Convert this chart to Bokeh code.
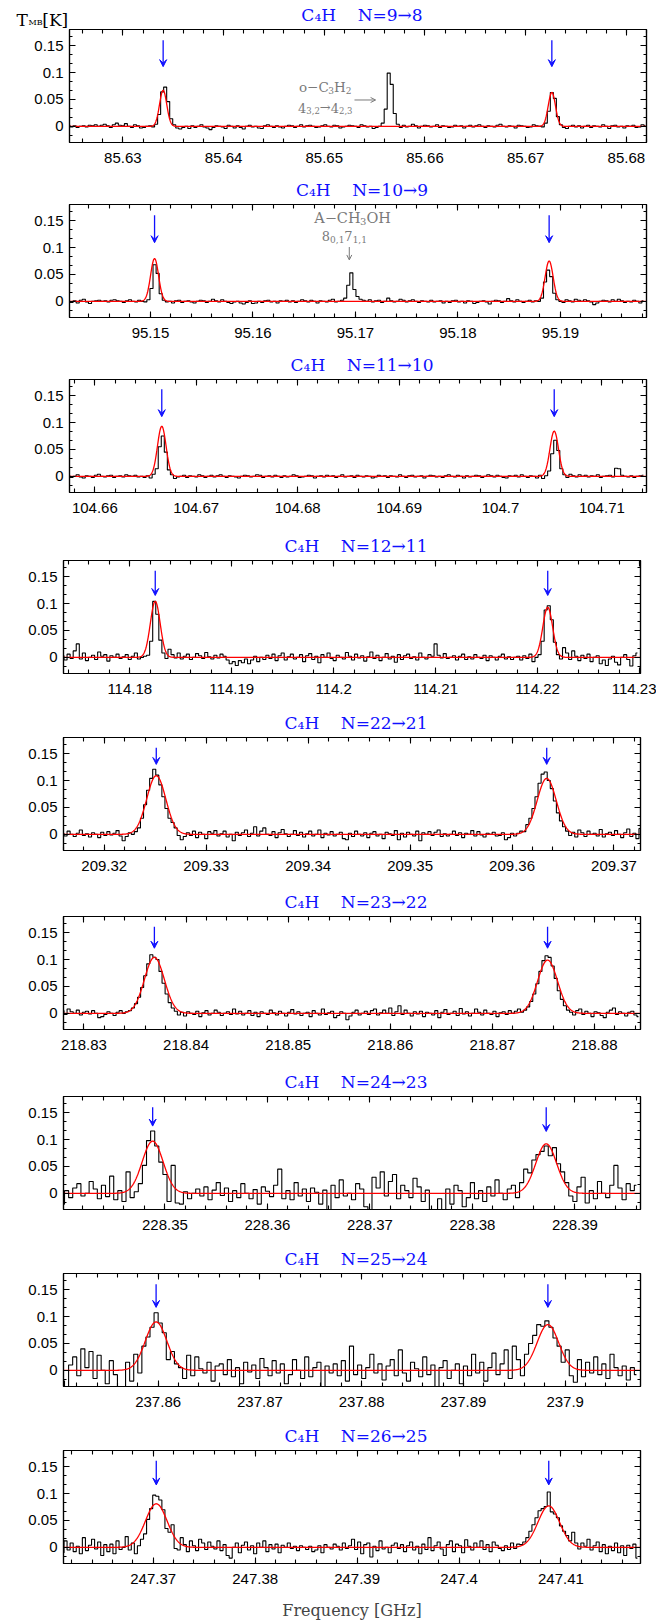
import numpy as np
from bokeh.plotting import figure
from bokeh.layouts import column
from bokeh.models import (Range1d, LinearAxis, SingleIntervalTicker,
                          CustomJSTickFormatter, Label, Arrow, VeeHead, OpenHead)
from bokeh.embed import file_html
from bokeh.resources import INLINE

# ---------------- data ----------------
TRANSITIONS = ["N=9→8", "N=10→9", "N=11→10", "N=12→11", "N=22→21",
               "N=23→22", "N=24→23", "N=25→24", "N=26→25"]
SPECIES = "C₄H"
XLIM = [(85.6247, 85.6820), (95.1421, 95.1984), (104.6575, 104.7144),
        (114.1735, 114.2301), (209.3160, 209.3726), (218.8280, 218.8845),
        (228.3401, 228.3964), (237.8507, 237.9074), (247.3612, 247.4178)]
YLIM = (-0.03, 0.18)
# C4H line frequencies (GHz) marked by blue arrows
LINES = [(85.6340, 85.6726), (95.1504, 95.1889), (104.6666, 104.7053),
         (114.1825, 114.2210), (209.3251, 209.3634), (218.8369, 218.8754),
         (228.3488, 228.3872), (237.8598, 237.8983), (247.3703, 247.4088)]
# Gaussian fit parameters
FIT_AMP = [(0.067, 0.063), (0.0795, 0.075), (0.093, 0.084), (0.104, 0.093),
           (0.109, 0.104), (0.104, 0.099), (0.097, 0.092), (0.090, 0.085),
           (0.081, 0.077)]
FIT_FWHM = [0.00085, 0.00092, 0.00100, 0.00114, 0.0022, 0.0023, 0.0024,
            0.0025, 0.0025]
# spectra: first channel frequency (GHz), channel width (GHz), T_MB in mK
CH_START = [85.6246, 95.1420, 104.6574, 114.1734, 209.3159, 218.8279,
            228.3400, 237.8506, 247.3611]
CH_WIDTH = [0.0003, 0.0003, 0.0003, 0.0003, 0.0003, 0.0003, 0.0004, 0.0004, 0.0003]

T1 = [2, -1, 1, -2, 0, 1, -1, 2, 1, 3,
      0, 2, 4, 1, -2, 3, 6, 2, 1, 5,
      0, -2, 3, 1, -3, -2, 0, 1, -1, 4,
      22, 64, 73, 46, 14, 3, -3, -5, -2, 0,
      -4, 1, -2, 0, 3, -1, -3, -6, -2, 1,
      0, -1, -4, 2, 0, -3, 1, -2, -5, 0,
      2, -1, 0, -3, -4, 1, 3, 0, -2, 1,
      -1, -3, 0, 2, 1, -2, 0, 3, -1, 1,
      2, 0, -2, -1, 1, 3, 0, -1, 2, 1,
      -3, -1, 0, 2, 1, 0, -2, 3, 1, -1,
      0, -4, -2, 0, 6, 32, 99, 78, 24, 4,
      -2, 2, -1, 0, 4, 1, -3, 0, 2, 1,
      -1, 0, 3, -2, 1, 0, -2, -1, 2, 0,
      1, -3, 0, 2, -1, 1, 3, 0, -2, 1,
      0, -1, 2, 4, 0, -1, 1, 0, -3, 2,
      1, 0, -2, -1, 3, 1, 0, -1, 6, 28,
      63, 52, 18, 3, -2, -4, 0, 2, -1, 1,
      -3, 0, 2, -2, 1, 0, -1, 3, 0, -4,
      1, 2, -1, 0, -3, 1, 0, 2, -2, -1,
      3, 1]
T2 = [0, -2, 1, -3, 2, 4, -1, -4, 0, 1,
      2, 0, 1, -1, 2, 3, 1, 0, -2, 1,
      3, 0, -1, 2, 0, -1, 3, 24, 68, 52,
      14, 2, -1, 0, -3, 1, 2, -2, 0, 1,
      -1, -3, 0, 2, 1, -2, 0, 4, 1, -1,
      3, 0, -2, -4, -1, 0, -3, -5, -2, 1,
      -4, -3, 0, -2, 1, 2, -1, 0, -3, 1,
      0, 2, -1, 1, -2, 0, 3, 1, -1, 2,
      0, -3, 1, 0, -1, 2, 4, -1, 0, 2,
      6, 30, 53, 22, 9, 4, 2, 0, 3, -1,
      1, 2, -2, 0, 6, 1, -1, 0, 4, 2,
      -1, 1, 3, 0, -2, 1, 0, -1, 2, -1,
      0, 1, -3, 0, -2, 1, 2, -1, 0, -3,
      1, 0, -4, -2, 0, 1, -1, -5, 0, 2,
      1, -2, 0, 5, 1, -1, 3, 0, -2, 0,
      2, -1, 1, 0, 6, 36, 58, 46, 15, 3,
      0, -2, 3, 1, -1, 4, 2, 0, 3, 1,
      -1, -6, -3, 0, 2, 1, -1, 3, 0, 4,
      1, -2, 0, -1, 2, 0, -3, 1]
T3 = [1, -2, 0, 3, -1, -3, 1, 0, -2, 2,
      4, 0, -1, 1, 2, -2, 0, 1, -1, 3,
      1, 0, 2, -1, 0, -2, 1, -3, 4, 14,
      55, 75, 45, 12, 3, -4, -1, 0, 2, -2,
      1, 0, -1, 3, 1, -2, 0, 2, -1, 1,
      3, 0, -2, 1, 0, -1, -3, 0, 2, 1,
      -1, 0, 3, 2, -2, 0, 1, -1, 2, 0,
      -2, 1, -1, 0, 3, 1, -2, -1, 0, 2,
      1, -3, 0, 1, -1, 2, 0, 1, -2, 0,
      3, -1, 0, 1, -2, 2, 0, -1, 1, 0,
      -3, -1, 2, 0, 1, -2, 1, 0, -1, 3,
      0, -2, 1, 2, -1, 0, 1, -3, 0, 2,
      1, -1, 0, -2, 1, 3, 0, -1, 2, 0,
      -3, 1, -1, 0, 2, 1, -2, 0, 3, 1,
      -1, 2, 0, -2, -3, 1, 0, 2, -1, 3,
      0, -2, 1, 0, -3, 2, -4, 1, 10, 42,
      67, 48, 14, 3, -2, 4, 1, -1, 3, 0,
      2, -1, 1, 0, 3, -2, 0, 1, 2, -1,
      15, 14, 2, 0, -1, 1, -2, 0, 1, 2]
T4 = [3, -5, 6, -2, 12, 25, -3, 8, -6, 0,
      4, -4, 10, 2, 5, -7, 3, 0, 6, -2,
      1, 5, -4, 2, 8, -3, 0, 2, 4, 30,
      104, 80, 32, 8, -2, 15, 5, -1, 8, -3,
      2, 6, -4, 0, 7, 3, -2, 9, 1, -3,
      4, -1, 6, 2, -5, -12, -8, -15, -6, -10,
      -3, -12, -5, 2, -8, 0, -4, 4, -2, 6,
      -6, 3, 8, -5, 1, 6, -3, 0, 5, -8,
      3, 7, -4, 2, -10, 5, 0, 8, -2, -6,
      4, 0, -3, 9, 2, -5, 6, -1, 3, -7,
      1, 10, -2, 4, -6, 0, 7, -3, 2, -9,
      5, -4, 3, 6, -2, 1, -5, 8, 0, -3,
      5, 2, 25, 4, -1, 7, -2, 0, 3, -5,
      2, 6, -4, 1, -3, 5, 0, -2, 4, -6,
      3, 0, -5, 2, 6, -3, 1, -4, 0, 2,
      -5, 3, -2, 6, -8, 0, 5, 30, 88, 96,
      70, 28, 5, -3, 18, 8, -4, 12, 2, -6,
      4, -2, 6, -8, 0, 3, -12, -5, -15, -3,
      2, -9, -14, 0, 5, -4, -16, 3, 8]
T5 = [2, -3, 6, 0, -4, 2, 8, -2, 1, -5,
      3, 0, -6, 4, -2, 5, -1, 2, 7, -3,
      -12, -4, 3, 0, 5, 12, 30, 55, 82, 104,
      121, 110, 92, 70, 48, 30, 22, 12, -2, -10,
      -4, 3, -2, 6, -6, 4, 0, -8, 5, 2,
      7, -3, 1, 6, -5, 0, -12, 4, -2, 3,
      8, -4, 2, 14, -3, 6, 12, 0, -2, 5,
      -6, 3, 9, 1, -4, 0, 7, -2, 4, -5,
      1, 6, -3, 0, 8, -6, 2, -1, 5, -3,
      0, 4, -8, -10, 2, -4, 6, 0, -3, 3,
      -6, 2, 5, -3, 0, -8, 4, 1, -2, 7,
      -10, 2, -5, 4, 0, -3, 6, -12, 3, 0,
      5, -2, 4, 8, -4, 1, -3, 0, 6, -2,
      3, -6, 2, 0, 7, -3, 5, -1, -5, 2,
      0, 4, -3, -2, 3, -10, -6, 2, -3, 2,
      6, 5, 18, 30, 48, 70, 95, 112, 116, 100,
      85, 62, 40, 25, 14, 6, -2, 4, -5, 8,
      3, -4, 6, 0, 2, -3, 9, -5, 1, 4,
      -2, 7, 0, -6, 3, 10, -4, 2, -8, 11]
T6 = [5, -2, 8, 3, 0, 6, -3, 2, 4, -1,
      5, 0, -8, -6, -2, 3, 0, -4, 2, 5,
      0, 3, 5, 10, 18, 30, 48, 70, 92, 109,
      104, 100, 78, 56, 36, 20, 10, 4, -3, 2,
      -5, 3, 0, -2, 4, -6, 1, 5, -3, 0,
      6, 2, -4, 0, 3, -2, 8, -1, 4, -3,
      0, 5, -4, 2, -6, 3, 0, -2, 6, 1,
      -3, 4, 0, -5, 2, 7, -1, 3, -4, 0,
      2, -6, 5, 0, -3, 8, -2, 1, 4, -8,
      -4, 3, 0, -12, -5, 2, 6, -3, 0, 4,
      -2, 5, 8, -3, 1, 6, 0, 10, -4, 3,
      14, -2, 6, 0, -5, 3, -1, 4, -6, 2,
      0, -3, 5, -8, 2, 7, -2, 0, 4, -4,
      9, -1, 3, -5, 0, 8, 2, -3, 6, 0,
      -2, 4, -6, 1, 3, -2, 5, 0, 4, 8,
      2, 6, 12, 22, 36, 55, 78, 98, 107, 104,
      88, 65, 42, 26, 14, 6, 2, -3, 5, 8,
      -2, 4, 0, -6, 3, 1, -4, -8, 2, 6,
      10, -2, 3, 0, -5, 2, 4, -3, -6]
T7 = [-20, 5, -8, 10, 18, -5, 0, 22, 8, -10,
      15, -6, 32, -12, 5, -15, 40, -8, 3, 18,
      52, 98, 116, 88, 58, 35, -15, 52, -18, -20,
      3, -10, 0, 8, -5, 12, -12, 6, 20, -4,
      10, -15, 5, -8, 18, 0, -10, 7, -20, 12,
      4, -6, 15, 45, -10, 5, -12, 20, -5, 8,
      -15, 10, 2, -20, 6, -45, 15, -8, 25, -5,
      0, -12, 18, 8, -25, -50, 30, 10, 40, -5,
      22, 35, -10, 15, 5, -8, 28, 12, -15, 6,
      -30, -40, -10, -35, 8, -20, 15, 5, -25, -8,
      20, -10, 5, -15, 12, -5, 25, 0, -12, 8,
      15, -8, 20, 45, 38, 62, 72, 78, 88, 70,
      85, 55, 40, 20, -5, -15, 12, 30, -18, 5,
      -10, 22, 0, -8, 15, 52, 10, -12, 18, 5,
      15]
T8 = [-20, -35, 10, 25, -10, 40, 5, 35, -15, 28,
      0, -25, 18, -8, -40, -35, 15, -20, 30, -5,
      45, 62, 80, 107, 88, 70, 20, 35, 12, 5,
      -15, 28, -10, 25, 3, -5, 15, -20, 8, 12,
      -8, 20, -12, 5, -25, 15, -3, 10, -15, 22,
      5, -10, 18, -5, 12, -25, -8, 20, 0, -15,
      25, -12, 5, 15, -30, 8, -5, 12, -10, 18,
      -20, 45, -8, 10, -15, 5, 30, -5, 12, -18,
      8, 20, -10, 38, -5, -20, 15, 3, -12, 25,
      -8, 10, -50, 5, 18, -15, 0, 12, -25, 8,
      -10, 30, -5, 15, -20, 5, 32, -8, 12, 38,
      -15, 45, 20, -10, 30, 50, 65, 85, 82, 92,
      80, 60, 45, 15, 38, -10, -22, 20, -12, 15,
      -5, 25, -8, 12, -15, 30, 5, -10, 8, -18,
      5, -8]
T9 = [-10, 12, -5, 8, -8, 2, -12, 18, -6, 4,
      15, -3, 10, -15, 5, -8, 6, -12, 12, -4,
      0, 20, -5, 8, -12, 3, 15, 25, 52, 72,
      97, 95, 88, 70, 35, 28, 42, -2, -5, 18,
      5, -8, 12, 3, -6, 15, 8, -4, 10, 2,
      -3, 12, -6, 5, -15, -20, 0, 8, -10, 4,
      10, -5, 3, -12, 8, 0, 12, -8, 5, -3,
      6, -10, 4, 0, 8, -2, 2, -6, 3, 0,
      -4, 2, -8, -5, 3, -10, 5, 0, -3, 6,
      2, -5, 8, -2, 3, 15, -4, 10, -12, 5,
      8, -18, 2, -6, 12, -3, 0, -10, 4, 8,
      -2, 5, -8, 3, 10, -5, 2, -12, 6, -4,
      18, -6, 3, 10, -3, -15, 5, 12, -8, 6,
      3, -10, 14, 2, -5, 8, 0, 12, -4, 5,
      -8, 10, 4, -2, -6, 3, -4, 8, -2, 6,
      5, 10, 18, 30, 42, 55, 68, 72, 76, 103,
      66, 62, 55, 40, 30, 22, 12, 28, 8, -3,
      8, 2, 15, -5, 3, 10, -8, 5, -12, 2,
      -6, 8, -10, 3, -15, 4, -2, 6, -20]
SPECTRA = [T1, T2, T3, T4, T5, T6, T7, T8, T9]

# ---------------- layout / style ----------------
W = 656
FRAME_W, FRAME_H = 577, 113
HDR_H, PANEL_TOP = 29, 0          # header strip (titles) + gap above frame
FRAME_LEFT = [69, 69, 69, 63, 63, 63, 63, 63, 63]
BLOCK_H = [175, 175, 181, 177, 179, 180, 177, 177, 201]
ARROW_TOP = [0.160, 0.160, 0.162, 0.161, 0.161, 0.161, 0.160, 0.160, 0.161]
ARROW_TIP = [(0.111, 0.111), (0.109, 0.109), (0.111, 0.111), (0.115, 0.115),
             (0.130, 0.130), (0.121, 0.121), (0.125, 0.115), (0.117, 0.117),
             (0.116, 0.116)]
SERIF = "DejaVu Serif"
SANS = "Liberation Sans"
GRAY = "#7a7a7a"
BLUE = "#1010ff"

EM = {'0': .636, '1': .636, '2': .636, '3': .636, '4': .636, '5': .636, '6': .636,
      '7': .636, '8': .636, '9': .636, ',': .318, '→': .838, '−': .838, 'A': .722,
      'C': .734, 'H': .872, 'O': .787, 'o': .602, 'T': .703, '[': .39, ']': .39,
      'K': .776, 'M': .995, 'B': .735}


def twidth(t, s):
    return sum(EM.get(c, .6) for c in t) * s


def pieces(p, x, y, parts, color, dx=0.0, align="center"):
    total = sum(twidth(t, s) for t, s, _ in parts)
    off = dx - total / 2 if align == "center" else dx
    for t, s, dy in parts:
        p.add_layout(Label(x=x, y=y, x_offset=off, y_offset=dy, text=t,
                           text_font=SERIF, text_font_size=f"{s}px",
                           text_color=color, text_align="left",
                           text_baseline="alphabetic"))
        off += twidth(t, s)


fmt_code = "return parseFloat(tick.toFixed(5)).toString();"


def style_axis(ax, interval, nminor, labels=True, major_len=6, minor_len=3):
    ax.ticker = SingleIntervalTicker(interval=interval, num_minor_ticks=nminor)
    ax.major_tick_in = major_len
    ax.major_tick_out = 0
    ax.minor_tick_in = minor_len
    ax.minor_tick_out = 0
    ax.axis_line_color = "black"
    ax.axis_line_width = 1.2
    ax.major_tick_line_width = 1.1
    ax.minor_tick_line_width = 1.1
    if labels:
        ax.formatter = CustomJSTickFormatter(code=fmt_code)
        ax.major_label_text_font = SANS
        ax.major_label_text_font_size = "15px"
        ax.major_label_text_color = "black"
    else:
        ax.major_label_text_color = None
        ax.major_label_text_font_size = "1px"
        ax.major_label_standoff = 0


children = []
for k in range(9):
    lo, hi = XLIM[k]
    L = FRAME_LEFT[k]

    # ---- header strip with the panel title ----
    h = figure(width=W, height=HDR_H, x_range=Range1d(0, W), y_range=Range1d(0, HDR_H),
               x_axis_type=None, y_axis_type=None, output_backend="svg",
               toolbar_location=None, tools="", min_border=0,
               min_border_left=0, min_border_right=0, min_border_top=0,
               min_border_bottom=0)
    h.frame_align = False
    h.outline_line_color = None
    h.xgrid.visible = False
    h.ygrid.visible = False
    cx = L + FRAME_W / 2 + 4
    h.add_layout(Label(x=cx, y=HDR_H - 14,
                       text=SPECIES + "\u00a0\u00a0\u00a0\u00a0" + TRANSITIONS[k],
                       text_font=SERIF, text_font_size="17px", text_color=BLUE,
                       text_align="center", text_baseline="alphabetic"))
    if k == 0:
        pieces(h, 16, 10, [("T", 17, 0), ("MB", 8, -3), ("[K]", 17, 0)], "black",
               align="left")
    children.append(h)

    # ---- spectrum panel ----
    PH = BLOCK_H[k] - HDR_H
    p = figure(width=W, height=PH, x_range=Range1d(lo, hi),
               y_range=Range1d(*YLIM), output_backend="svg",
               toolbar_location=None, tools="",
               min_border_left=L, min_border_right=W - L - FRAME_W,
               min_border_top=PANEL_TOP, min_border_bottom=PH - PANEL_TOP - FRAME_H)
    p.frame_align = False
    p.xgrid.visible = False
    p.ygrid.visible = False
    p.outline_line_color = "black"
    p.outline_line_width = 1.2
    p.background_fill_color = "white"
    p.border_fill_color = "white"

    xb = p.xaxis[0]
    yl = p.yaxis[0]
    style_axis(xb, 0.01, 5, True, 6, 4)
    xb.major_label_standoff = 10
    style_axis(yl, 0.05, 3, True, 6, 3)
    yl.major_label_standoff = 6
    top = LinearAxis()
    style_axis(top, 0.01, 5, False, 6, 4)
    p.add_layout(top, "above")
    right = LinearAxis()
    style_axis(right, 0.05, 3, False, 6, 3)
    p.add_layout(right, "right")

    # spectrum (histogram)
    T = SPECTRA[k]
    f = CH_START[k] + CH_WIDTH[k] * np.arange(len(T))
    p.step(f, np.array(T) / 1000.0, mode="center", line_color="black", line_width=1.1)

    # Gaussian fit
    xf = np.linspace(lo, hi, 1500)
    yf = np.zeros_like(xf)
    for c, a in zip(LINES[k], FIT_AMP[k]):
        yf += a * np.exp(-4 * np.log(2) * (xf - c) ** 2 / FIT_FWHM[k] ** 2)
    p.line(xf, yf, line_color="red", line_width=1.3)

    # blue arrows
    for c, tip in zip(LINES[k], ARROW_TIP[k]):
        p.add_layout(Arrow(x_start=c, y_start=ARROW_TOP[k], x_end=c, y_end=tip,
                           line_color=BLUE, line_width=1.3,
                           end=VeeHead(size=7, line_color=BLUE, fill_color=BLUE,
                                       line_width=1)))

    if k == 0:
        pieces(p, 85.6501, 0.0727, [("o−C", 13.5, 0), ("3", 9, -3), ("H", 13.5, 0),
                                     ("2", 9, -3)], GRAY)
        pieces(p, 85.6501, 0.035, [("4", 13, 0), ("3,2", 8.5, -3), ("→", 13, 0),
                                    ("4", 13, 0), ("2,3", 8.5, -3)], GRAY)
        p.add_layout(Arrow(x_start=85.6530, y_start=0.049, x_end=85.6551, y_end=0.049,
                           line_color=GRAY, line_width=1,
                           end=OpenHead(size=5, line_color=GRAY, line_width=1)))
    if k == 1:
        pieces(p, 95.1697, 0.1545, [("A−CH", 14.5, 0), ("3", 10, -3.5), ("OH", 14.5, 0)],
               GRAY)
        pieces(p, 95.1697, 0.122, [("8", 13, 0), ("0,1", 9, -3.5), ("7", 13, 0),
                                    ("1,1", 9, -3.5)], GRAY, dx=-8)
        p.add_layout(Arrow(x_start=95.1694, y_start=0.101, x_end=95.1694, y_end=0.077,
                           line_color=GRAY, line_width=1,
                           end=OpenHead(size=5, line_color=GRAY, line_width=1)))
    if k == 8:
        xb.axis_label = "Frequency [GHz]"
        xb.axis_label_text_font = SERIF
        xb.axis_label_text_font_size = "16px"
        xb.axis_label_text_font_style = "normal"
        xb.axis_label_standoff = 14
    children.append(p)

layout = column(*children, spacing=0)
open("out.html", "w").write(file_html(layout, INLINE))
